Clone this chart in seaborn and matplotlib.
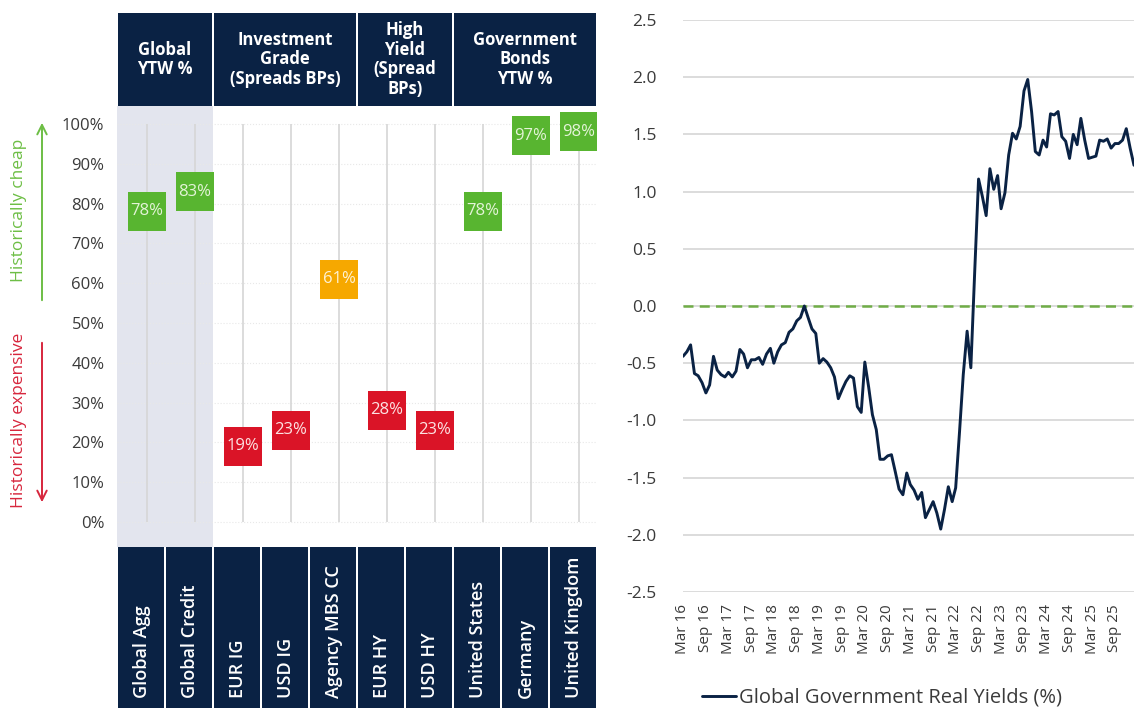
import numpy as np
import pandas as pd
import matplotlib.pyplot as plt
import seaborn as sns
from matplotlib.patches import Rectangle

# left panel: valuation percentile by asset
assets = ["Global Agg", "Global Credit", "EUR IG", "USD IG", "Agency MBS CC",
          "EUR HY", "USD HY", "United States", "Germany", "United Kingdom"]
percentiles = [78, 83, 19, 23, 61, 28, 23, 78, 97, 98]
signal = ["cheap", "cheap", "expensive", "expensive", "neutral",
          "expensive", "expensive", "cheap", "cheap", "cheap"]
group_titles = ["Global\nYTW %", "Investment\nGrade\n(Spreads BPs)",
                "High\nYield\n(Spread\nBPs)", "Government\nBonds\nYTW %"]
group_sizes = [2, 3, 2, 3]

# right panel: monthly global government real yields (%), from Mar 2016
real_yields = [
    -0.44, -0.40, -0.34, -0.59, -0.61, -0.67, -0.76, -0.69, -0.44, -0.56,
    -0.60, -0.62, -0.58, -0.62, -0.57, -0.38, -0.42, -0.54, -0.47, -0.47,
    -0.45, -0.51, -0.42, -0.37, -0.50, -0.40, -0.34, -0.32, -0.23, -0.20,
    -0.13, -0.10, 0.00, -0.10, -0.20, -0.24, -0.50, -0.46, -0.49, -0.54,
    -0.62, -0.81, -0.73, -0.66, -0.61, -0.63, -0.88, -0.93, -0.49, -0.71,
    -0.95, -1.08, -1.34, -1.34, -1.31, -1.30, -1.45, -1.60, -1.65, -1.46,
    -1.56, -1.61, -1.69, -1.63, -1.85, -1.78, -1.71, -1.81, -1.95, -1.78,
    -1.58, -1.71, -1.59, -1.10, -0.60, -0.22, -0.54, 0.30, 1.11, 0.96,
    0.79, 1.20, 1.02, 1.14, 0.85, 0.99, 1.32, 1.51, 1.46, 1.57,
    1.88, 1.98, 1.70, 1.35, 1.32, 1.45, 1.39, 1.68, 1.67, 1.70,
    1.48, 1.44, 1.29, 1.50, 1.41, 1.64, 1.45, 1.29, 1.30, 1.31,
    1.45, 1.44, 1.46, 1.38, 1.42, 1.42, 1.45, 1.55, 1.38, 1.23,
]
start_month = "2016-03-01"

NAVY = "#0A2244"
GREEN = "#58B530"
ORANGE = "#F6A800"
RED = "#DA1427"
TXT = "#3A3A3A"
box_text = {"cheap": "#E4F4D8", "neutral": "#FFF3D6", "expensive": "#FCE3E3"}

sns.set_theme(style="white")
plt.rcParams["font.family"] = ["Open Sans", "DejaVu Sans"]

W, H = 1134, 713
fig = plt.figure(figsize=(W / 100, H / 100), dpi=100)


def px_axes(x0, y0, x1, y1):
    # pixel box measured from the top-left corner
    return fig.add_axes([x0 / W, 1 - y1 / H, (x1 - x0) / W, (y1 - y0) / H])


xlim = (-0.625, 9.375)
cols = np.arange(len(assets))

# ---- left: main dot area
ax = px_axes(117, 106, 597, 547)
ax.set_xlim(*xlim)
ax.set_ylim(-6.3, 104.5)
ax.axvspan(-0.625, 1.375, color="#E3E5EE", zorder=0, lw=0)
ax.vlines(cols, 0, 100, color="#D6D6D6", lw=1.2, zorder=1)
for v in range(0, 101, 10):
    ax.axhline(v, color="#E8E8E8", lw=0.8, ls=":", zorder=0.5)

df = pd.DataFrame({"pos": cols, "pct": percentiles, "signal": signal})
sns.scatterplot(data=df, x="pos", y="pct", hue="signal", ax=ax,
                palette={"cheap": GREEN, "neutral": ORANGE, "expensive": RED},
                marker="s", s=780, linewidth=0, legend=False, zorder=3)
for i, (v, sg) in enumerate(zip(percentiles, signal)):
    ax.text(i, v, f"{v}%", ha="center", va="center", color=box_text[sg],
            fontsize=12, zorder=4)

ax.set_yticks(range(0, 101, 10))
ax.set_yticklabels([f"{v}%" for v in range(0, 101, 10)], fontsize=12, color=TXT)
ax.set_xticks([])
ax.tick_params(axis="y", length=0, pad=9)
ax.set_xlabel("")
ax.set_ylabel("")
for s in ax.spines.values():
    s.set_visible(False)

# ---- left: header boxes
axh = px_axes(117, 13, 597, 106)
axh.set_xlim(*xlim)
axh.set_ylim(0, 1)
axh.axis("off")
left = xlim[0]
for title, n in zip(group_titles, group_sizes):
    axh.add_patch(Rectangle((left + 0.02, 0), n - 0.04, 1, color=NAVY, lw=0))
    axh.text(left + n / 2, 0.5, title, ha="center", va="center", color="white",
             fontsize=12, fontweight="bold", linespacing=1.12)
    left += n

# ---- left: bottom label boxes
axf = px_axes(117, 547, 597, 708)
axf.set_xlim(*xlim)
axf.set_ylim(0, 1)
axf.axis("off")
for i, name in enumerate(assets):
    axf.add_patch(Rectangle((i - 0.625 + 0.02, 0), 0.96, 1, color=NAVY, lw=0))
    axf.text(i - 0.1, 0.065, name, rotation=90, ha="center", va="bottom",
             color="white", fontsize=13, fontweight="semibold")

# ---- left: cheap / expensive arrows
fig.text(19 / W, 1 - 210 / H, "Historically cheap", rotation=90, color="#6DBE45",
         ha="center", va="center", fontsize=12.5)
fig.text(19 / W, 1 - 420 / H, "Historically expensive", rotation=90, color="#D7263D",
         ha="center", va="center", fontsize=12.5)
ax.annotate("", xy=(42, H - 120), xytext=(42, H - 303), xycoords="figure pixels",
            textcoords="figure pixels",
            arrowprops=dict(arrowstyle="->", color="#6DBE45", lw=1.4, mutation_scale=17))
ax.annotate("", xy=(42, H - 505), xytext=(42, H - 340), xycoords="figure pixels",
            textcoords="figure pixels",
            arrowprops=dict(arrowstyle="->", color="#D7263D", lw=1.4, mutation_scale=17))

# ---- right: real yields line
axr = px_axes(683, 20, 1134, 592)
dates = pd.date_range(start_month, periods=len(real_yields), freq="MS")
sns.lineplot(x=dates, y=real_yields, ax=axr, color=NAVY, lw=2.1,
             label="Global Government Real Yields (%)")
axr.axhline(0, color="#70AD47", lw=1.8, ls=(0, (4, 2.5)), zorder=1)
axr.set_ylim(-2.5, 2.5)
yt = np.arange(-2.5, 2.51, 0.5)
axr.set_yticks(yt)
axr.set_yticklabels([f"{v:.1f}" for v in yt], fontsize=12.5, color=TXT)
axr.yaxis.grid(True, color="#D9D9D9", lw=1.3)
axr.set_xlim(dates[0], dates[-1])
xt = pd.date_range(start_month, "2025-09-01", freq="6MS")
axr.set_xticks(xt)
axr.set_xticklabels([d.strftime("%b %y") for d in xt], rotation=90,
                    fontsize=11, color=TXT)
axr.tick_params(length=0)
axr.tick_params(axis="y", pad=19)
axr.tick_params(axis="x", pad=9)
axr.set_xlabel("")
axr.set_ylabel("")
for s in axr.spines.values():
    s.set_visible(False)

handles, labels = axr.get_legend_handles_labels()
axr.get_legend().remove()
fig.legend(handles, labels, loc="center", bbox_to_anchor=(882 / W, 1 - 698 / H),
           frameon=False, fontsize=14.5, handlelength=1.7, handletextpad=0.15,
           labelcolor=TXT)

fig.savefig("out.png", dpi=100)
